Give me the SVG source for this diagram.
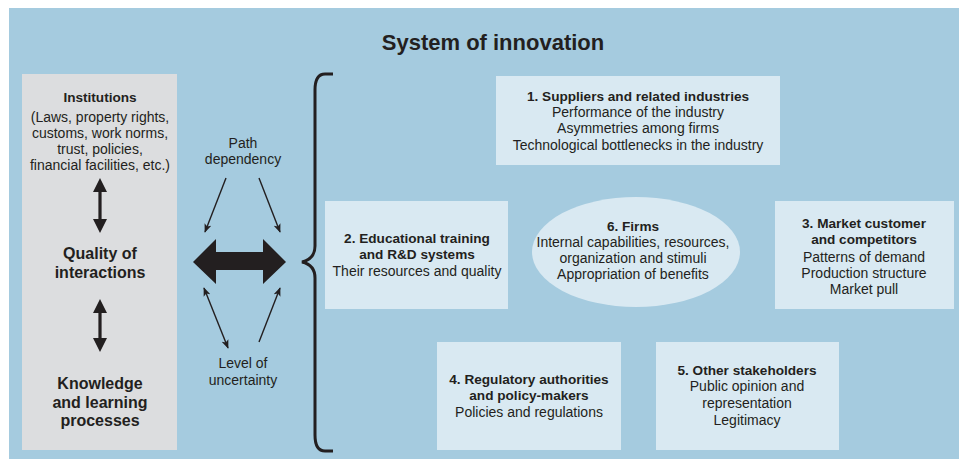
<svg xmlns="http://www.w3.org/2000/svg" width="959" height="459" viewBox="0 0 959 459">
  <style>
    text { font-family: "Liberation Sans", Arial, sans-serif; fill: #231f20; text-anchor: middle; }
    .t { font-size: 14px; }
    .b { font-size: 13.6px; font-weight: bold; }
    .big { font-size: 16px; font-weight: bold; }
    .title { font-size: 22px; font-weight: bold; }
    .box { fill: #d9e9f2; }
    .thin { stroke: #231f20; stroke-width: 1.4; fill: none; }
    .solid { fill: #231f20; }
  </style>
  <defs>
    <marker id="head" viewBox="0 0 10 10" refX="9" refY="5" markerWidth="9" markerHeight="9" markerUnits="userSpaceOnUse" orient="auto-start-reverse">
      <path d="M0,1 L10,5 L0,9 L2.5,5 Z" fill="#231f20"/>
    </marker>
  </defs>

  <!-- background panel -->
  <rect x="9" y="8" width="950" height="451" fill="#a5cbdf"/>
  <text class="title" x="493" y="50">System of innovation</text>

  <!-- left column: institutions, interactions, learning -->
  <g id="institutions-column">
    <rect x="22" y="74" width="155" height="376" fill="#dcdddf"/>
    <text class="b" x="100" y="102">Institutions</text>
    <text class="t" x="100" y="122">(Laws, property rights,</text>
    <text class="t" x="100" y="138">customs, work norms,</text>
    <text class="t" x="100" y="154">trust, policies,</text>
    <text class="t" x="100" y="170">financial facilities, etc.)</text>
    <polygon class="solid" points="100,178 107,192 101.6,192 101.6,219 107,219 100,233 93,219 98.4,219 98.4,192 93,192"/>
    <text class="big" x="100" y="259">Quality of</text>
    <text class="big" x="100" y="278">interactions</text>
    <polygon class="solid" points="100,299 107,313 101.6,313 101.6,338 107,338 100,352 93,338 98.4,338 98.4,313 93,313"/>
    <text class="big" x="100" y="389">Knowledge</text>
    <text class="big" x="100" y="408">and learning</text>
    <text class="big" x="100" y="426">processes</text>
  </g>

  <!-- middle labels -->
  <g id="path-dependency">
    <text class="t" x="243" y="148">Path</text>
    <text class="t" x="243" y="164">dependency</text>
  </g>
  <g id="level-of-uncertainty">
    <text class="t" x="243" y="368">Level of</text>
    <text class="t" x="243" y="385">uncertainty</text>
  </g>

  <!-- connectors -->
  <g id="connectors">
    <polygon class="solid" points="193,262 216,239 216,252 263,252 263,239 286,262 263,284 263,270 216,270 216,284"/>
    <line class="thin" x1="226" y1="178" x2="205" y2="232" marker-end="url(#head)"/>
    <line class="thin" x1="259" y1="178" x2="280" y2="232" marker-end="url(#head)"/>
    <line class="thin" x1="204" y1="288" x2="228" y2="348" marker-start="url(#head)" marker-end="url(#head)"/>
    <line class="thin" x1="259" y1="342" x2="280" y2="288" marker-end="url(#head)"/>
    <path d="M333,74 H325 Q315,74 315,90 V246 Q315,259 302,262 Q315,265 315,278 V435 Q315,451 325,451 H333" fill="none" stroke="#231f20" stroke-width="3"/>
  </g>

  <!-- system components -->
  <g id="suppliers">
    <rect class="box" x="496" y="76" width="284" height="89"/>
    <text class="b" x="638" y="101">1. Suppliers and related industries</text>
    <text class="t" x="638" y="117">Performance of the industry</text>
    <text class="t" x="638" y="133">Asymmetries among firms</text>
    <text class="t" x="638" y="150">Technological bottlenecks in the industry</text>
  </g>

  <g id="education">
    <rect class="box" x="325" y="201" width="183" height="108"/>
    <text class="b" x="417" y="243">2. Educational training</text>
    <text class="b" x="417" y="259">and R&amp;D systems</text>
    <text class="t" x="417" y="276">Their resources and quality</text>
  </g>

  <g id="firms">
    <ellipse class="box" cx="636" cy="252" rx="104" ry="55"/>
    <text class="b" x="633" y="231">6. Firms</text>
    <text class="t" x="633" y="247">Internal capabilities, resources,</text>
    <text class="t" x="633" y="263">organization and stimuli</text>
    <text class="t" x="633" y="279">Appropriation of benefits</text>
  </g>

  <g id="market">
    <rect class="box" x="775" y="201" width="179" height="108"/>
    <text class="b" x="864" y="228">3. Market customer</text>
    <text class="b" x="864" y="244">and competitors</text>
    <text class="t" x="864" y="262">Patterns of demand</text>
    <text class="t" x="864" y="278">Production structure</text>
    <text class="t" x="864" y="294">Market pull</text>
  </g>

  <g id="regulators">
    <rect class="box" x="437" y="342" width="184" height="108"/>
    <text class="b" x="529" y="384">4. Regulatory authorities</text>
    <text class="b" x="529" y="400">and policy-makers</text>
    <text class="t" x="529" y="417">Policies and regulations</text>
  </g>

  <g id="stakeholders">
    <rect class="box" x="656" y="342" width="183" height="108"/>
    <text class="b" x="747" y="375">5. Other stakeholders</text>
    <text class="t" x="747" y="391">Public opinion and</text>
    <text class="t" x="747" y="408">representation</text>
    <text class="t" x="747" y="425">Legitimacy</text>
  </g>
</svg>
